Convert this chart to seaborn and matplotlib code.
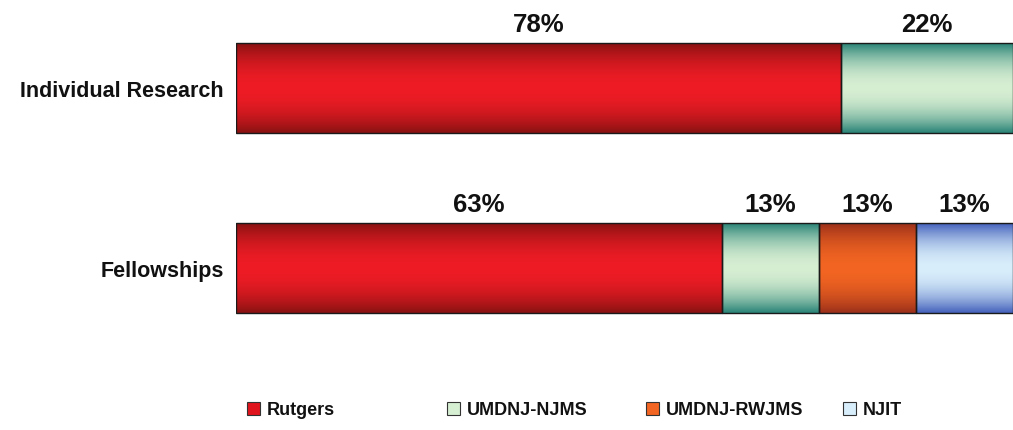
import numpy as np
import matplotlib
matplotlib.use("Agg")
import matplotlib.pyplot as plt
import seaborn as sns
from matplotlib.patches import Patch

categories = ["Individual Research", "Fellowships"]
institutions = ["Rutgers", "UMDNJ-NJMS", "UMDNJ-RWJMS", "NJIT"]
rutgers = [77.8, 62.5]
umdnj_njms = [22.2, 12.5]
umdnj_rwjms = [0.0, 12.5]
njit = [0.0, 12.5]
rutgers_labels = ["78%", "63%"]
njms_labels = ["22%", "13%"]
rwjms_labels = ["", "13%"]
njit_labels = ["", "13%"]

series = [rutgers, umdnj_njms, umdnj_rwjms, njit]
series_labels = [rutgers_labels, njms_labels, rwjms_labels, njit_labels]

# (center colour, edge colour) for the shaded look of each bar
colors = [("#EE1C25", "#8A1212"),
          ("#D6EED2", "#2A8478"),
          ("#F26522", "#9C301A"),
          ("#D8EEFB", "#4562BC")]

sns.set_style("white")
plt.rcParams["font.family"] = ["Liberation Sans", "DejaVu Sans"]
plt.rcParams["font.weight"] = "bold"

fig = plt.figure(figsize=(10.13, 4.31), dpi=100)
ax = fig.add_axes([236 / 1013, 71 / 431, 1 - 236 / 1013, 360 / 431])

lefts = np.zeros(len(categories))
bar_h = 0.5
for vals, labs, (c_mid, c_edge), name in zip(series, series_labels, colors, institutions):
    n_before = len(ax.patches)
    sns.barplot(x=vals, y=categories, orient="h", left=lefts, width=bar_h,
                color=c_mid, saturation=1, facecolor="none",
                edgecolor="#1a1a1a", linewidth=1.0, ax=ax)
    new = ax.patches[n_before:]
    # vertical shading: bright in the middle, darker at top and bottom
    t = np.linspace(0, 1, 80)
    w = np.abs(2 * t - 1) ** 2.0
    c0 = np.array(matplotlib.colors.to_rgb(c_mid))
    c1 = np.array(matplotlib.colors.to_rgb(c_edge))
    grad = (1 - w)[:, None] * c0 + w[:, None] * c1
    grad = grad[:, None, :]
    for p, v in zip(new, vals):
        p.set_zorder(3)
        if v <= 0:
            p.set_visible(False)
            continue
        x0, y0 = p.get_x(), p.get_y()
        im = ax.imshow(grad, extent=(x0, x0 + p.get_width(), y0, y0 + p.get_height()),
                       aspect="auto", interpolation="bicubic", zorder=2)
        im.set_clip_path(p)
    for i, (v, lab) in enumerate(zip(vals, labs)):
        if lab:
            ax.text(lefts[i] + v / 2, i - bar_h / 2 - 0.035, lab, ha="center",
                    va="bottom", fontsize=18.5, fontweight="bold", color="#111111")
    lefts = lefts + np.array(vals)

ax.set_xlim(0, 100)
ax.set_ylim(1 + 0.508, -0.492)
ax.set_xticks([])
ax.set_xlabel("")
ax.set_ylabel("")
ax.tick_params(axis="y", length=0, pad=9, labelsize=15.5, labelcolor="#111111")
for lab in ax.get_yticklabels():
    lab.set_fontweight("bold")
sns.despine(ax=ax, left=True, bottom=True)

leg_x = [238, 438, 637, 834]
for name, (c_mid, c_edge), x in zip(institutions, colors, leg_x):
    h = Patch(facecolor=c_mid if name != "Rutgers" else "#E0141C", edgecolor="#333333", linewidth=0.8)
    fig.legend(handles=[h], labels=[name], loc="center left",
               bbox_to_anchor=(x / 1013, 1 - 411 / 431), frameon=False,
               handlelength=0.7, handleheight=0.7, handletextpad=0.4,
               borderpad=0, labelcolor="#111111",
               prop={"weight": "bold", "size": 13})

fig.savefig("out.png", dpi=100)
